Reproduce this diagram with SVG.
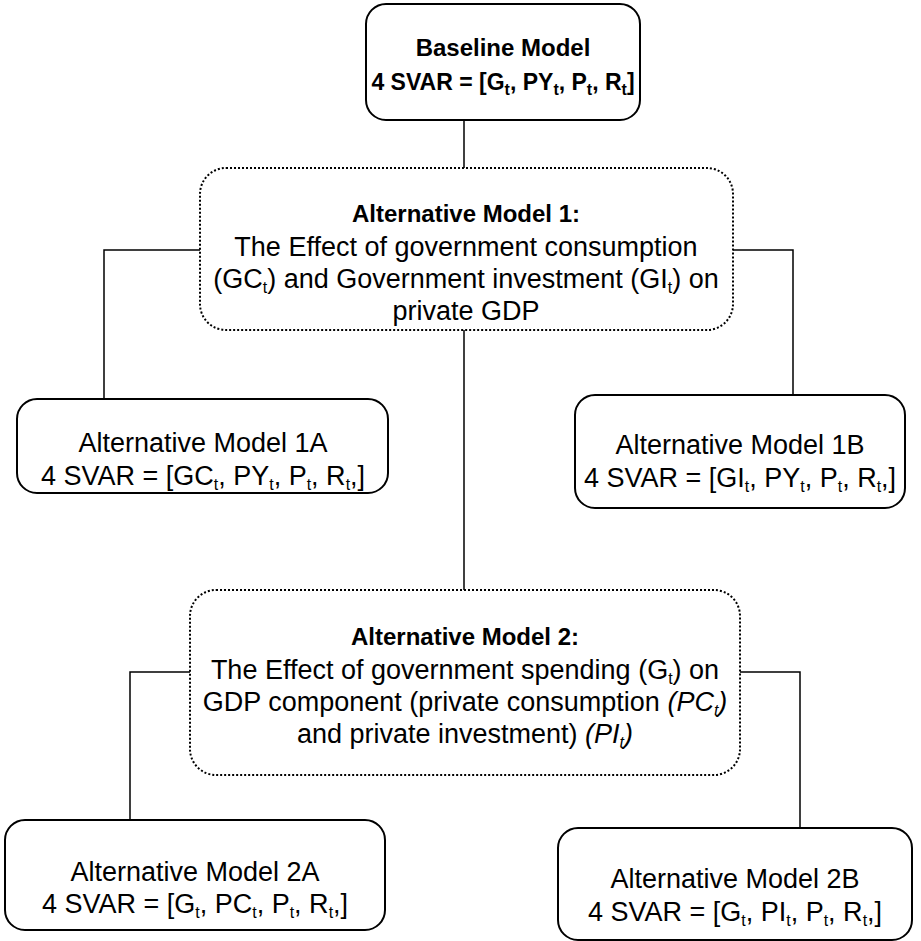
<svg xmlns="http://www.w3.org/2000/svg" width="921" height="941" viewBox="0 0 921 941">
<style>
.box{fill:#fff;stroke:#000;stroke-width:2}
.dot{fill:#fff;stroke:#000;stroke-width:2;stroke-dasharray:2 2}
.con{fill:none;stroke:#000;stroke-width:1.5}
text{font-family:"Liberation Sans",Arial,sans-serif;fill:#000;text-anchor:middle}
.r{font-size:27px}
.b{font-size:24px;font-weight:bold}
.b2{font-size:23px;font-weight:bold}
.s{font-size:16px}
</style>
<rect width="921" height="941" fill="#fff"/>
<g id="connectors">
<line class="con" x1="464" y1="120" x2="464" y2="168"/>
<polyline class="con" points="200,250 104,250 104,399"/>
<polyline class="con" points="733,250 793,250 793,395"/>
<line class="con" x1="464" y1="330" x2="464" y2="590"/>
<polyline class="con" points="190,672 130,672 130,820"/>
<polyline class="con" points="740,672 800,672 800,828"/>
</g>
<g id="baseline">
<rect class="box" x="366" y="4" width="274" height="116" rx="20"/>
<text class="b" x="503" y="56">Baseline Model</text>
<text class="b2" x="503" y="90">4 SVAR = [G<tspan class="s" dy="5">t</tspan><tspan dy="-5">, PY</tspan><tspan class="s" dy="5">t</tspan><tspan dy="-5">, P</tspan><tspan class="s" dy="5">t</tspan><tspan dy="-5">, R</tspan><tspan class="s" dy="5">t</tspan><tspan dy="-5">]</tspan></text>
</g>
<g id="alt1">
<rect class="dot" x="200" y="168" width="533" height="162" rx="26"/>
<text class="b" x="466" y="222">Alternative Model 1:</text>
<text class="r" x="466" y="256">The Effect of government consumption</text>
<text class="r" x="466" y="288">(GC<tspan class="s" dy="5">t</tspan><tspan dy="-5">) and Government investment (GI</tspan><tspan class="s" dy="5">t</tspan><tspan dy="-5">) on</tspan></text>
<text class="r" x="466" y="320">private GDP</text>
</g>
<g id="alt1a">
<rect class="box" x="17" y="399" width="371" height="94" rx="20"/>
<text class="r" x="203" y="452">Alternative Model 1A</text>
<text class="r" x="203" y="485">4 SVAR = [GC<tspan class="s" dy="5">t</tspan><tspan dy="-5">, PY</tspan><tspan class="s" dy="5">t</tspan><tspan dy="-5">, P</tspan><tspan class="s" dy="5">t</tspan><tspan dy="-5">, R</tspan><tspan class="s" dy="5">t</tspan><tspan dy="-5">,]</tspan></text>
</g>
<g id="alt1b">
<rect class="box" x="575" y="395" width="330" height="113" rx="20"/>
<text class="r" x="740" y="454">Alternative Model 1B</text>
<text class="r" x="740" y="487">4 SVAR = [GI<tspan class="s" dy="5">t</tspan><tspan dy="-5">, PY</tspan><tspan class="s" dy="5">t</tspan><tspan dy="-5">, P</tspan><tspan class="s" dy="5">t</tspan><tspan dy="-5">, R</tspan><tspan class="s" dy="5">t</tspan><tspan dy="-5">,]</tspan></text>
</g>
<g id="alt2">
<rect class="dot" x="190" y="590" width="550" height="185" rx="26"/>
<text class="b" x="465" y="645">Alternative Model 2:</text>
<text class="r" x="465" y="679">The Effect of government spending (G<tspan class="s" dy="5">t</tspan><tspan dy="-5">) on</tspan></text>
<text class="r" x="465" y="711">GDP component (private consumption <tspan font-style="italic">(PC</tspan><tspan class="s" font-style="italic" dy="5">t</tspan><tspan font-style="italic" dy="-5">)</tspan></text>
<text class="r" x="465" y="743">and private investment) <tspan font-style="italic">(PI</tspan><tspan class="s" font-style="italic" dy="5">t</tspan><tspan font-style="italic" dy="-5">)</tspan></text>
</g>
<g id="alt2a">
<rect class="box" x="5" y="820" width="380" height="110" rx="20"/>
<text class="r" x="195" y="881">Alternative Model 2A</text>
<text class="r" x="195" y="913">4 SVAR = [G<tspan class="s" dy="5">t</tspan><tspan dy="-5">, PC</tspan><tspan class="s" dy="5">t</tspan><tspan dy="-5">, P</tspan><tspan class="s" dy="5">t</tspan><tspan dy="-5">, R</tspan><tspan class="s" dy="5">t</tspan><tspan dy="-5">,]</tspan></text>
</g>
<g id="alt2b">
<rect class="box" x="558" y="828" width="354" height="112" rx="20"/>
<text class="r" x="735" y="888">Alternative Model 2B</text>
<text class="r" x="735" y="921">4 SVAR = [G<tspan class="s" dy="5">t</tspan><tspan dy="-5">, PI</tspan><tspan class="s" dy="5">t</tspan><tspan dy="-5">, P</tspan><tspan class="s" dy="5">t</tspan><tspan dy="-5">, R</tspan><tspan class="s" dy="5">t</tspan><tspan dy="-5">,]</tspan></text>
</g>
</svg>
